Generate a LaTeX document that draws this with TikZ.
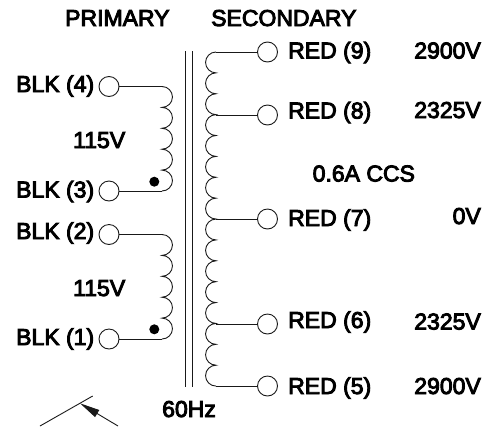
\documentclass[tikz,border=0pt]{standalone}
\usepackage{fontspec}
\setmainfont{Liberation Sans}
\newfontfamily\labfont[FakeBold=4]{Liberation Sans}
\usetikzlibrary{arrows.meta}
\tikzset{
  wire/.style={line width=0.9pt,black!90},
  term/.style={circle,draw,line width=0.9pt,black!90,minimum size=20pt,inner sep=0pt,fill=white},
  lab/.style={anchor=base west,inner sep=0pt,font=\labfont\fontsize{23}{26}\selectfont,text=black},
  labr/.style={lab,anchor=base east},
  dot/.style={circle,fill=black,inner sep=0pt,minimum size=10pt}
}
\begin{document}
\begin{tikzpicture}[x=1pt,y=-1pt]
\useasboundingbox (0,0) rectangle (494,426);
% core
\coordinate (c1t) at (185.5,51); \coordinate (c1b) at (185.5,387);
\coordinate (c2t) at (192.5,51); \coordinate (c2b) at (192.5,387);
\draw[wire] (c1t) -- (c1b);
\draw[wire] (c2t) -- (c2b);
% secondary coil (y axis is flipped: arcs run on the left side)
\coordinate (s9) at (216,52); \coordinate (s8) at (216,115); \coordinate (s7) at (216,219);
\coordinate (s6) at (216,324); \coordinate (s5) at (216,386);
\draw[wire] (s9) foreach \n in {1,...,16} { arc[start angle=-90,end angle=-270,radius=10.44] };
\node[term] (r9) at (267.5,52) {};
\node[term] (r8) at (267.5,115) {};
\node[term] (r7) at (267.5,219) {};
\node[term] (r6) at (267.5,324) {};
\node[term] (r5) at (267.5,386) {};
\draw[wire] (s9) -- (r9);
\draw[wire] (s8) -- (r8);
\draw[wire] (s7) -- (r7);
\draw[wire] (s6) -- (r6);
\draw[wire] (s5) -- (r5);
% primary coils
\coordinate (p4) at (162,86.5); \coordinate (p3) at (162,191);
\coordinate (p2) at (162,234.5); \coordinate (p1) at (162,339);
\draw[wire] (p4) foreach \n in {1,...,5} { arc[start angle=-90,end angle=90,radius=10.45] };
\draw[wire] (p2) foreach \n in {1,...,5} { arc[start angle=-90,end angle=90,radius=10.45] };
\node[term] (b4) at (109,86.5) {};
\node[term] (b3) at (109,191) {};
\node[term] (b2) at (109,234.5) {};
\node[term] (b1) at (109,339) {};
\draw[wire] (b4) -- (p4);
\draw[wire] (b3) -- (p3);
\draw[wire] (b2) -- (p2);
\draw[wire] (b1) -- (p1);
\node[dot] (d1) at (154.3,181.7) {};
\node[dot] (d2) at (154.3,329.3) {};
% core symbol cut by the lower edge
\coordinate (a1) at (40,426); \coordinate (a2) at (92.7,396);
\coordinate (a3) at (118,426); \coordinate (a4) at (80,403.3);
\draw[wire] (a1) -- (a2);
\draw[wire,-{Triangle[length=20pt,width=8pt]}] (a3) -- (a4);
% labels
\node[lab] (tp) at (65,26) {PRIMARY};
\node[lab] (ts) at (211,26) {SECONDARY};
\node[lab] (l4) at (16,92) {BLK (4)};
\node[lab] (l3) at (16,197.5) {BLK (3)};
\node[lab] (l2) at (16,239) {BLK (2)};
\node[lab] (l1) at (16,345) {BLK (1)};
\node[lab] (v1) at (73,148) {115V};
\node[lab] (v2) at (73,296) {115V};
\node[lab] (hz) at (162,417) {60Hz};
\node[lab] (t9) at (288,58.5) {RED (9)};
\node[lab] (t8) at (288,118.5) {RED (8)};
\node[lab] (t7) at (288,226) {RED (7)};
\node[lab] (t6) at (288,328) {RED (6)};
\node[lab] (t5) at (288,394) {RED (5)};
\node[labr] (u9) at (481,58.5) {2900V};
\node[labr] (u8) at (481,118) {2325V};
\node[labr] (u7) at (481,224) {0V};
\node[labr] (u6) at (481,329.5) {2325V};
\node[labr] (u5) at (481,394) {2900V};
\node[lab] (cc) at (312.5,181.5) {0.6A CCS};
\end{tikzpicture}
\end{document}
